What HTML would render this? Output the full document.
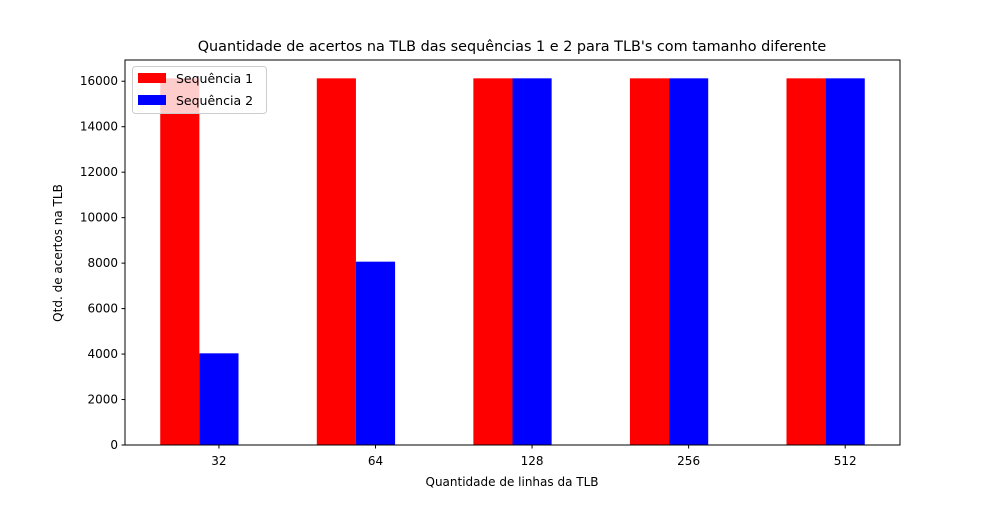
<!DOCTYPE html>
<html><head><meta charset="utf-8"><style>
body{margin:0;background:#fff;}
text{font-family:"DejaVu Sans","Liberation Sans",sans-serif;}
</style></head><body>
<svg id="chart" width="1000" height="500" xmlns="http://www.w3.org/2000/svg">
<text x="512" y="51" font-size="14.4" text-anchor="middle">Quantidade de acertos na TLB das sequências 1 e 2 para TLB's com tamanho diferente</text>
<g id="bars"></g>
<g id="axes"></g>
<rect x="125" y="60" width="775" height="385" fill="none" stroke="#000" stroke-width="1"/>
<text x="512" y="486" font-size="12" text-anchor="middle">Quantidade de linhas da TLB</text>
<text transform="translate(62,253) rotate(-90)" font-size="12" text-anchor="middle">Qtd. de acertos na TLB</text>
<g>
<rect x="132.5" y="66.5" width="134" height="47" rx="3" fill="#fff" fill-opacity="0.8" stroke="#ccc"/>
<rect x="138" y="73" width="28" height="10" fill="#ff0000"/>
<text x="176" y="83" font-size="12.5">Sequência 1</text>
<rect x="138" y="95" width="28" height="10" fill="#0000ff"/>
<text x="176" y="105" font-size="12.5">Sequência 2</text>
</g>
</svg>
<script>
const categories = ["32","64","128","256","512"];
const seq1 = [16128,16128,16128,16128,16128];
const seq2 = [4032,8064,16128,16128,16128];
const yTicks = [0,2000,4000,6000,8000,10000,12000,14000,16000];
const ns="http://www.w3.org/2000/svg";
const L=125,R=900,T=60,B=445;
const yMax=Math.max(...seq1,...seq2)*1.05;
const y=v=>B-(v/yMax)*(B-T);
const unit=(R-L)/4.95;
const x=i=>L+(i+0.6)*unit;
const bw=0.25*unit;
const bars=document.getElementById('bars'), axes=document.getElementById('axes');
function mk(t,a,p){const e=document.createElementNS(ns,t);for(const k in a)e.setAttribute(k,a[k]);p.appendChild(e);return e;}
categories.forEach((c,i)=>{
  const r1=mk('rect',{x:x(i)-1.5*bw,y:y(seq1[i]),width:bw,height:B-y(seq1[i]),fill:'#ff0000'},bars);
  
  
  const r2=mk('rect',{x:x(i)-0.5*bw,y:y(seq2[i]),width:bw,height:B-y(seq2[i]),fill:'#0000ff'},bars);
  
  
  mk('line',{x1:x(i),x2:x(i),y1:B,y2:B+3.5,stroke:'#000'},axes);
  const t=mk('text',{x:x(i),y:B+20,'font-size':12,'text-anchor':'middle'},axes);
  t.textContent=c;
  
  
});
yTicks.forEach(v=>{
  mk('line',{x1:L-3.5,x2:L,y1:y(v),y2:y(v),stroke:'#000'},axes);
  const t=mk('text',{x:L-7,y:y(v)+4,'font-size':12,'text-anchor':'end'},axes);
  t.textContent=v;
  
  
});
</script>
</body></html>
